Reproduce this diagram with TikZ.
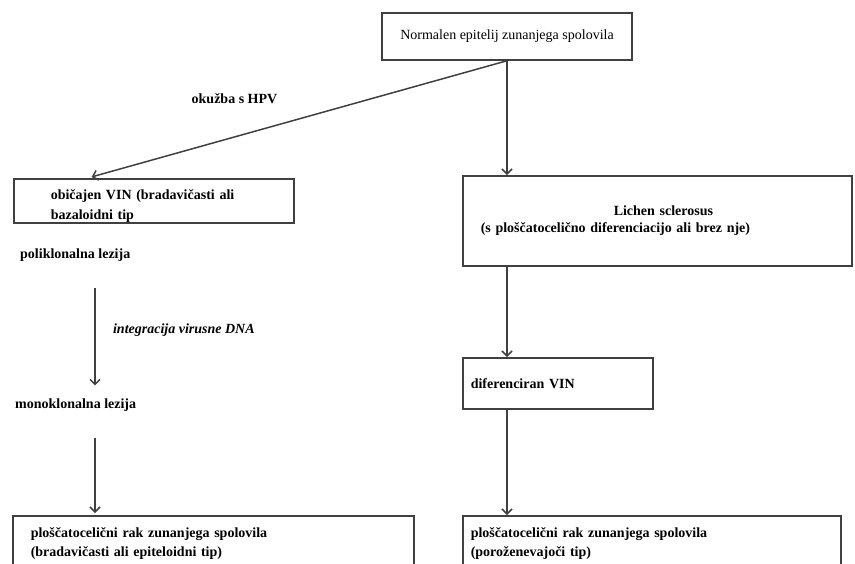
\documentclass[tikz,border=0pt]{standalone}
\usepackage{fontspec}
\setmainfont{Liberation Serif}
\usetikzlibrary{arrows.meta,positioning}

\newcommand{\fsz}{\fontsize{14pt}{19pt}\selectfont}
\tikzset{
  box/.style={draw=black!75, line width=1.5pt, fill=white, rectangle, font=\fsz\bfseries, align=left, anchor=north west},
  arr/.style={draw=black!75, line width=1.5pt, -{Straight Barb[length=5pt,width=10pt]}},
  txt/.style={font=\fsz\bfseries, anchor=west, inner sep=0pt}
}

\begin{document}
\begin{tikzpicture}[x=1pt,y=-1pt]
\useasboundingbox (0,0) rectangle (855,563);
\clip (0,0) rectangle (855,563);

%Top box
\node[box, font=\fsz, align=center, anchor=center, minimum width=250pt, minimum height=47pt] (norm) at (507,36.5) {Normalen epitelij zunanjega spolovila};

%Left branch
\node[box, font=\fontsize{14pt}{20pt}\selectfont\bfseries, inner xsep=37pt, inner ysep=0pt, text width=206pt, text height=20pt, minimum height=44pt] (obic) at (13,178) {običajen VIN (bradavičasti ali\\bazaloidni tip};
\node[txt] (poli) at (20,255) {poliklonalna lezija};
\node[txt] (mono) at (15,405) {monoklonalna lezija};
\coordinate (l) at (95,0);
\node[box, inner xsep=18pt, inner ysep=12pt, text width=365pt] (rak1) at (12,515) {ploščatocelični rak zunanjega spolovila\\(bradavičasti ali epiteloidni tip)\\ \strut};

%Right branch
\node[box, font=\fontsize{14pt}{16.5pt}\selectfont\bfseries, inner xsep=18pt, text width=353pt, minimum height=90pt] (lich) at (462,175) {\hspace*{133pt}Lichen sclerosus\\(s ploščatocelično diferenciacijo ali brez nje)};
\node[box, inner xsep=8pt, text width=174pt, minimum height=51pt] (dif) at (462,357) {diferenciran VIN};
\node[box, inner xsep=8pt, inner ysep=12pt, text width=362pt] (rak2) at (462,515) {ploščatocelični rak zunanjega spolovila\\(poroženevajoči tip)\\ \strut};

%Arrows
\draw[arr, shorten >=4pt] (norm.south) -- ([xshift=-66pt]obic.north) node[pos=0.65, yshift=38pt, font=\fsz\bfseries]{okužba s HPV};
\draw[arr, shorten <=26pt, shorten >=13pt] (poli.south -| l) -- (mono.north -| l) node[midway, right=14pt, font=\fsz\bfseries\itshape]{integracija virusne DNA};
\draw[arr, shorten <=26pt, shorten >=2pt] (mono.south -| l) -- (rak1.north -| l);
\draw[arr] (norm.south) -- (lich.north -| norm.south);
\draw[arr] (lich.south -| norm.south) -- (dif.north -| norm.south);
\draw[arr] (dif.south -| norm.south) -- (rak2.north -| norm.south);
\end{tikzpicture}
\end{document}
